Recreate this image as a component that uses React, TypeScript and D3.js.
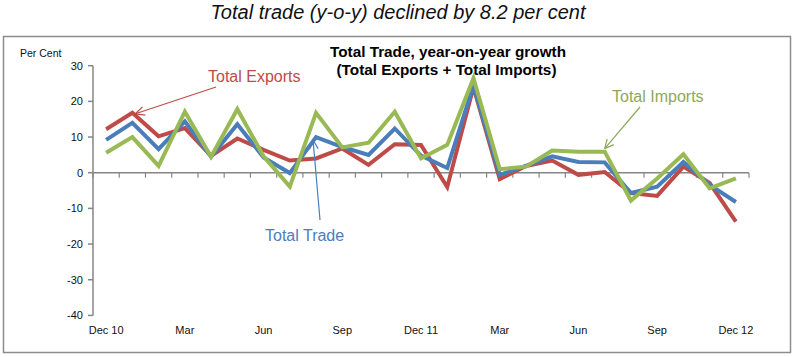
import React from "react";
import * as d3 from "d3";

const categories = [
  "Dec 10", "Jan", "Feb", "Mar", "Apr", "May", "Jun", "Jul", "Aug", "Sep", "Oct", "Nov",
  "Dec 11", "Jan", "Feb", "Mar", "Apr", "May", "Jun", "Jul", "Aug", "Sep", "Oct", "Nov", "Dec 12",
];
const tickLabelIndexes = [0, 3, 6, 9, 12, 15, 18, 21, 24];
const exportsSeries = [12.2, 16.8, 10.2, 12.5, 4.7, 9.6, 6.4, 3.4, 4.0, 6.8, 2.2, 8.0, 7.8, -4.0, 24.0, -1.8, 1.9, 3.4, -0.6, 0.2, -5.7, -6.5, 1.7, -2.9, -13.7];
const tradeSeries = [9.2, 14.0, 6.6, 14.4, 4.5, 13.6, 4.3, -0.1, 10.0, 7.2, 5.0, 12.4, 4.8, 1.3, 24.5, -0.6, 1.9, 4.6, 3.0, 2.9, -5.7, -3.9, 3.0, -3.4, -8.2];
const importsSeries = [5.6, 10.0, 1.9, 17.1, 4.5, 17.8, 4.6, -3.9, 16.8, 7.1, 8.4, 17.1, 4.0, 7.8, 26.5, 1.0, 1.7, 6.2, 5.9, 5.9, -7.8, -1.6, 5.2, -4.4, -1.6];
const yTicks = [30, 20, 10, 0, -10, -20, -30, -40];

const W = 794;
const H = 357;
const FONT = "'Liberation Sans', Arial, sans-serif";
const BLUE = "#4A7EBB";
const RED = "#BE4B48";
const GREEN = "#98B954";
const AXIS = "#868686";

function ArrowHead({ x1, y1, x2, y2, color }: { x1: number; y1: number; x2: number; y2: number; color: string }) {
  const ang = Math.atan2(y2 - y1, x2 - x1);
  const len = 10;
  const spread = 0.45;
  const a1 = ang + Math.PI - spread;
  const a2 = ang + Math.PI + spread;
  return (
    <g stroke={color} strokeWidth={1.2} fill="none">
      <line x1={x1} y1={y1} x2={x2} y2={y2} />
      <line x1={x2} y1={y2} x2={x2 + len * Math.cos(a1)} y2={y2 + len * Math.sin(a1)} />
      <line x1={x2} y1={y2} x2={x2 + len * Math.cos(a2)} y2={y2 + len * Math.sin(a2)} />
    </g>
  );
}

export default function App() {
  const x = d3.scaleBand<number>().domain(categories.map((_, i) => i)).range([93, 749]).padding(0);
  const y = d3.scaleLinear().domain([-40, 30]).range([315.4, 65.7]);
  const cx = (i: number) => (x(i) as number) + x.bandwidth() / 2;
  const line = d3
    .line<number>()
    .x((_, i) => cx(i))
    .y((d) => y(d));

  const series = [
    { data: exportsSeries, color: RED },
    { data: tradeSeries, color: BLUE },
    { data: importsSeries, color: GREEN },
  ];

  const boundaries = d3.range(categories.length + 1).map((i) => 93 + i * x.bandwidth());

  return (
    <div style={{ position: "absolute", left: 0, top: 0, width: W, height: H, background: "#fff" }}>
      <svg width={W} height={H} style={{ display: "block" }}>
        <rect x={0} y={0} width={W} height={H} fill="#fff" />
        <text x={398} y={19} textAnchor="middle" fontFamily={FONT} fontStyle="italic" fontSize={20} fill="#111">
          Total trade (y-o-y) declined by 8.2 per cent
        </text>
        <rect x={3.5} y={36.5} width={787} height={316} fill="none" stroke="#8c8c8c" strokeWidth={1.5} />

        <text x={20} y={57} fontFamily={FONT} fontSize={10.5} fill="#111">Per Cent</text>
        <text x={448} y={57} textAnchor="middle" fontFamily={FONT} fontWeight="bold" fontSize={15.3} fill="#000">
          Total Trade, year-on-year growth
        </text>
        <text x={446.5} y={74.5} textAnchor="middle" fontFamily={FONT} fontWeight="bold" fontSize={15.3} fill="#000">
          (Total Exports + Total Imports)
        </text>

        {/* y axis */}
        <line x1={93} y1={y(30)} x2={93} y2={y(-40)} stroke={AXIS} strokeWidth={1.5} />
        {yTicks.map((t) => (
          <g key={t}>
            <line x1={88} y1={y(t)} x2={93} y2={y(t)} stroke={AXIS} strokeWidth={1.5} />
            <text x={83} y={y(t) + 4} textAnchor="end" fontFamily={FONT} fontSize={11} fill="#111">
              {t}
            </text>
          </g>
        ))}

        {/* x axis */}
        <line x1={93} y1={y(0)} x2={749} y2={y(0)} stroke={AXIS} strokeWidth={1.5} />
        {boundaries.map((bx, i) => (
          <line key={i} x1={bx} y1={y(0)} x2={bx} y2={y(0) + 5} stroke={AXIS} strokeWidth={1.2} />
        ))}
        {tickLabelIndexes.map((i) => (
          <text key={i} x={cx(i)} y={334} textAnchor="middle" fontFamily={FONT} fontSize={11} fill="#111">
            {categories[i]}
          </text>
        ))}

        {series.map((s, k) => (
          <path key={k} d={line(s.data) || ""} fill="none" stroke={s.color} strokeWidth={4} strokeLinejoin="miter" />
        ))}

        {/* annotations */}
        <text x={208} y={82} fontFamily={FONT} fontSize={16} fill={RED}>Total Exports</text>
        <ArrowHead x1={216} y1={87} x2={cx(1) + 3} y2={y(exportsSeries[1]) + 1} color={RED} />

        <text x={265} y={241} fontFamily={FONT} fontSize={16} fill={BLUE}>Total Trade</text>
        <ArrowHead x1={320} y1={220} x2={cx(8) - 3} y2={y(tradeSeries[8]) + 3} color={BLUE} />

        <text x={612} y={102} fontFamily={FONT} fontSize={16} fill="#8DA85A">Total Imports</text>
        <ArrowHead x1={640} y1={107} x2={cx(19)} y2={y(importsSeries[19]) - 3} color="#8DA85A" />
      </svg>
    </div>
  );
}
